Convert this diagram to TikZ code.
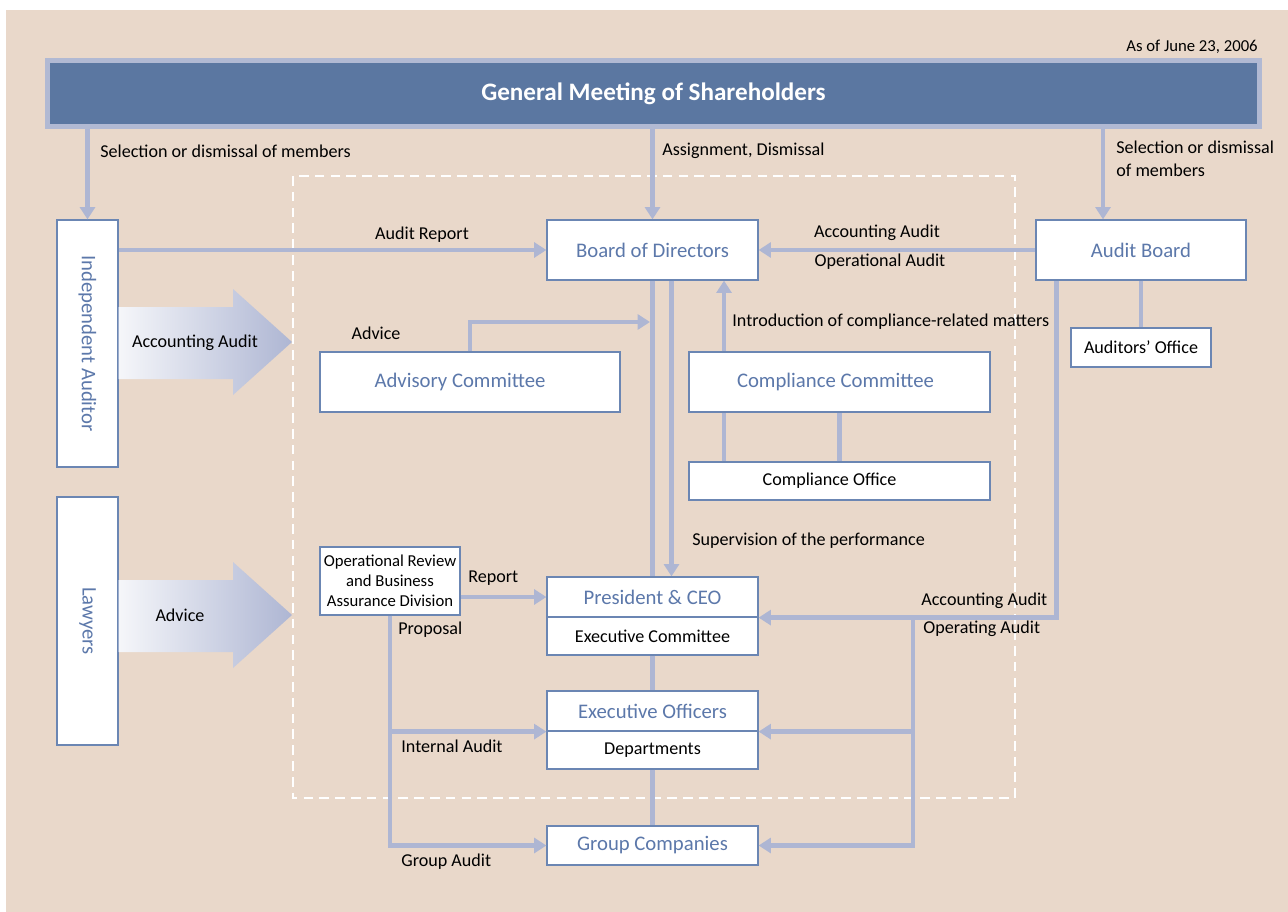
\documentclass[tikz,border=0pt]{standalone}
\usepackage{graphicx}
\usepackage{fontspec}
\setmainfont{Carlito}
\usetikzlibrary{arrows.meta}
\definecolor{paper}{HTML}{E9D8CA}
\definecolor{banner}{HTML}{5B77A1}
\definecolor{bannerrim}{HTML}{B1B9D3}
\definecolor{wire}{HTML}{AEB6D3}
\definecolor{boxline}{HTML}{6B86B3}
\definecolor{boxtext}{HTML}{5C78AA}

\begin{document}
\begin{tikzpicture}[x=0.02cm,y=-0.02cm]
\tikzstyle{every node}+=[inner sep=0pt, font=\fontsize{10.3}{13}\selectfont]
\tikzstyle{unit}=[draw=boxline, fill=white, line width=0.7pt, text=boxtext, font=\fontsize{11.8}{14}\selectfont]
\tikzstyle{plain}=[unit, text=black, font=\fontsize{10.3}{12}\selectfont]
\tikzstyle{link}=[draw=wire, line width=2.8pt]
\tikzstyle{flow}=[link, -{Triangle[length=7pt,width=8.5pt]}]
\tikzstyle{bigarrow}=[left color=wire!12, middle color=wire, right color=wire]
\useasboundingbox (0,0) rectangle (1288,912);
\fill [paper] (6,10) rectangle (1288,912);
\draw [white, line width=1.3pt, dash pattern=on 5.5pt off 3.5pt] (293,176) rectangle (1015,798);
\node (date) [anchor=east, font=\fontsize{9.5}{11}\selectfont] at (1258,47) {As of June 23, 2006};
\node (gms) [fill=banner, draw=bannerrim, line width=0.1cm, minimum width=24.24cm, minimum height=1.32cm, text=white, font=\bfseries\fontsize{14.3}{16}\selectfont] at (653.5,93.5) {General Meeting of Shareholders};
\node (indep) [unit, minimum width=1.22cm, minimum height=4.94cm] at (87.5,343.5) {\rotatebox{-90}{Independent Auditor}};
\node (lawyers) [unit, minimum width=1.22cm, minimum height=4.96cm] at (87.5,621) {\rotatebox{-90}{Lawyers}};
\node (bod) [unit, minimum width=4.22cm, minimum height=1.2cm] at (652.5,250) {Board of Directors};
\node (abd) [unit, minimum width=4.2cm, minimum height=1.2cm] at (1141,250) {Audit Board};
\node (aoff) [plain, minimum width=2.8cm, minimum height=0.78cm] at (1141,347.5) {Auditors’ Office};
\node (adv) [unit, minimum width=6cm, minimum height=1.2cm] at (470,382) {Advisory Committee\kern0.4cm};
\node (ccom) [unit, minimum width=6.02cm, minimum height=1.2cm] at (839.5,382) {Compliance Committee\kern0.16cm};
\node (coff) [plain, minimum width=6.02cm, minimum height=0.76cm] at (839.5,481) {Compliance Office\kern0.4cm};
\node (orb) [plain, align=center, minimum width=2.8cm, minimum height=1.36cm, font=\fontsize{9.5}{11.5}\selectfont] at (390,581) {Operational Review\\and Business\\Assurance Division};
\node (pres) [unit, minimum width=4.22cm, minimum height=0.8cm] at (652.5,597) {President \& CEO};
\node (excom) [plain, minimum width=4.22cm, minimum height=0.76cm] at (652.5,636) {Executive Committee};
\node (exo) [unit, minimum width=4.22cm, minimum height=0.8cm] at (652.5,711) {Executive Officers};
\node (dep) [plain, minimum width=4.22cm, minimum height=0.76cm] at (652.5,750) {Departments};
\node (grp) [unit, minimum width=4.22cm, minimum height=0.78cm] at (652.5,845.5) {Group Companies};
\coordinate (advend) at (650,322);
\coordinate (split) at (913,617);
\shade [bigarrow] (indep.east |- 0,307) -- (233,307) -- (233,289) -- (292,342) -- (233,395) -- (233,379) -- (indep.east |- 0,379) -- cycle;
\shade [bigarrow] (lawyers.east |- 0,580) -- (233,580) -- (233,562) -- (292,615) -- (233,668) -- (233,652) -- (lawyers.east |- 0,652) -- cycle;
\node (accaud) at (195,343) {Accounting Audit};
\node (advice) at (180,615) {Advice};
\draw [flow] (gms.south -| indep) -- (indep.north);
\draw [flow] (gms.south -| bod) -- (bod.north);
\draw [flow] ([xshift=-0.76cm]abd.north |- gms.south) -- ([xshift=-0.76cm]abd.north);
\draw [flow] (indep.east |- bod.west) -- (bod.west);
\draw [flow] (abd.west) -- (bod.east);
\draw [link] (abd.south) -- (aoff.north);
\draw [flow] (adv.north) |- (advend);
\draw [link] (bod.south) -- (pres.north);
\draw [flow] ([xshift=0.38cm]bod.south) -- ([xshift=0.38cm]pres.north);
\draw [flow] ([xshift=-2.31cm]ccom.north) -- ([xshift=-2.31cm]ccom.north |- bod.south);
\draw [link] ([xshift=-2.31cm]coff.north) -- ([xshift=-2.31cm]ccom.south);
\draw [link] (coff.north) -- (ccom.south);
\draw [link] (excom.south) -- (exo.north);
\draw [link] (dep.south) -- (grp.north);
\draw [flow] (orb.east |- pres.west) -- (pres.west);
\draw [flow] (orb.south) |- (exo.south west);
\draw [flow] (orb.south) |- (grp.west);
\draw [flow] ([xshift=0.42cm]abd.south west) |- (pres.south east);
\draw [flow] (split) |- (exo.south east);
\draw [flow] (split) |- (grp.east);
\node [anchor=west] at (100,151) {Selection or dismissal of members};
\node [anchor=west] at (662,151) {Assignment, Dismissal};
\node [anchor=north west, align=left] at (1116,141) {Selection or dismissal\\of members};
\node at (422,235) {Audit Report};
\node at (877,233) {Accounting Audit};
\node at (880,262) {Operational Audit};
\node at (376,333) {Advice};
\node [anchor=west] at (732,322) {Introduction of compliance-related matters};
\node [anchor=west] at (692,541) {Supervision of the performance};
\node [anchor=west] at (468,578) {Report};
\node [anchor=west] at (398,630) {Proposal};
\node [anchor=west] at (401,746) {Internal Audit};
\node [anchor=west] at (401,862) {Group Audit};
\node [anchor=west] at (921,601) {Accounting Audit};
\node [anchor=west] at (923,629) {Operating Audit};
\end{tikzpicture}
\end{document}
